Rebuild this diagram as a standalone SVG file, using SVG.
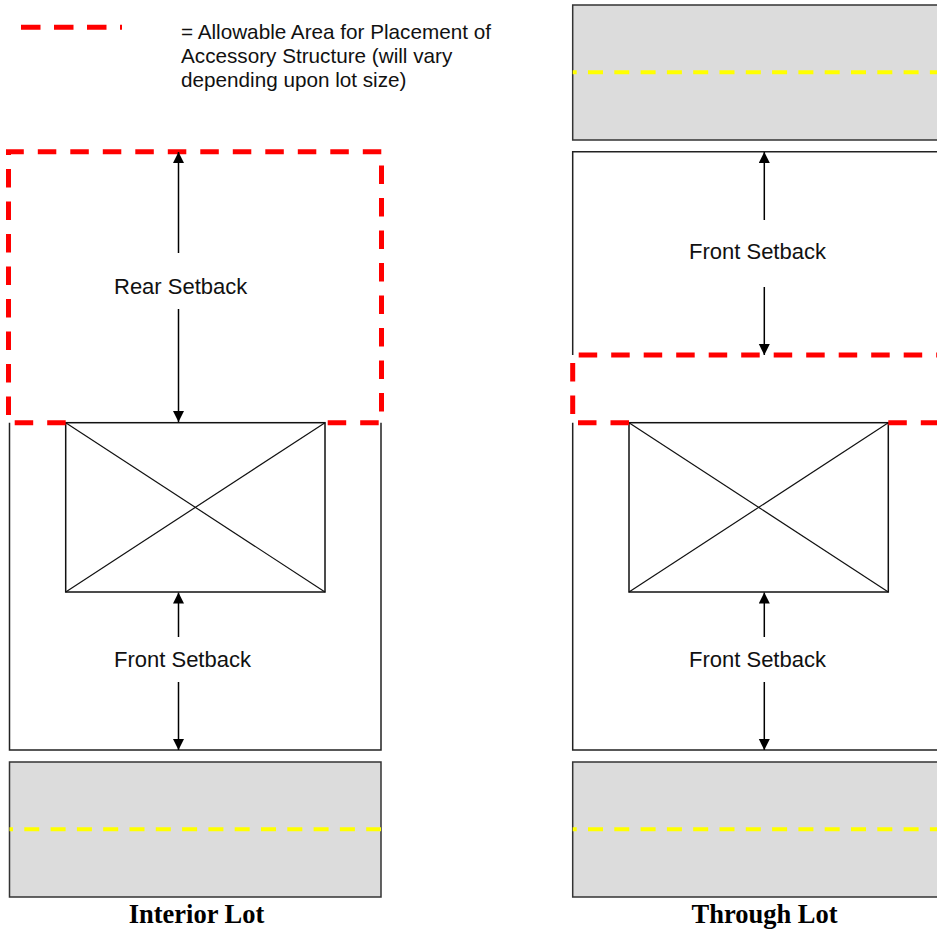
<svg xmlns="http://www.w3.org/2000/svg" width="937" height="931" viewBox="0 0 937 931">
<style>
.road{fill:#dcdcdc;stroke:#333;stroke-width:1.5}
.yel{fill:none;stroke:#ffff00;stroke-width:4;stroke-dasharray:15 11.3;stroke-dashoffset:11.5}
.lot{fill:none;stroke:#222;stroke-width:1.5}
.bld{fill:#fff;stroke:#111;stroke-width:1.5}
.diag{stroke:#111;stroke-width:1.2}
.red{fill:none;stroke:#ff0000;stroke-width:5;stroke-dasharray:18.5 14}
.arr{stroke:#000;stroke-width:1.5;fill:none;marker-end:url(#ah)}
.lbl{font-family:"Liberation Sans",Arial,sans-serif;font-size:22px;fill:#111}
.leg{font-family:"Liberation Sans",Arial,sans-serif;font-size:20.7px;fill:#111}
.ttl{font-family:"Liberation Serif","Times New Roman",serif;font-size:26.5px;font-weight:bold;fill:#000;text-anchor:middle}
</style>
<defs>
<marker id="ah" markerWidth="11" markerHeight="12" refX="11" refY="5.5" orient="auto" markerUnits="userSpaceOnUse">
<path d="M0,0 L11,5.5 L0,11 Z" fill="#000"/>
</marker>
</defs>
<rect width="937" height="931" fill="#fff"/>

<g id="legend">
<line x1="21" y1="27.3" x2="122" y2="27.3" stroke="#ff0000" stroke-width="5" stroke-dasharray="19.5 13.5"/>
<text class="leg" x="181" y="39">= Allowable Area for Placement of</text>
<text class="leg" x="181" y="63">Accessory Structure (will vary</text>
<text class="leg" x="181" y="87">depending upon lot size)</text>
</g>

<g id="interior-lot">
<path class="lot" d="M9.5,422.7 V750 H381 V422.7"/>
</g>
<g id="interior-building">
<rect class="bld" x="65.7" y="422.7" width="259.3" height="169.3"/>
<line class="diag" x1="65.7" y1="422.7" x2="325" y2="592"/>
<line class="diag" x1="325" y1="422.7" x2="65.7" y2="592"/>
</g>
<g id="interior-allowable">
<path class="red" d="M65.7,422.7 H8.5 V151.7 H381.5 V422.7 H325"/>
</g>
<g id="interior-road">
<rect class="road" x="9.5" y="762" width="371.5" height="135"/>
<line class="yel" x1="9.5" y1="829.3" x2="381" y2="829.3"/>
</g>
<g id="interior-title">
<text class="ttl" x="196.5" y="923">Interior Lot</text>
</g>
<g id="interior-rear-label"><text class="lbl" x="114" y="294">Rear Setback</text></g>
<g id="interior-front-label"><text class="lbl" x="114" y="667">Front Setback</text></g>

<g id="through-road-top">
<rect class="road" x="572.7" y="5" width="400" height="135"/>
<line class="yel" x1="572.7" y1="72.3" x2="937" y2="72.3" style="stroke-dashoffset:11"/>
</g>
<g id="through-lot">
<path class="lot" d="M960,151.7 H572.7 V355 M572.7,422.7 V750 H960"/>
</g>
<g id="through-building">
<rect class="bld" x="629" y="422.7" width="259.3" height="169.3"/>
<line class="diag" x1="629" y1="422.7" x2="888.3" y2="592"/>
<line class="diag" x1="888.3" y1="422.7" x2="629" y2="592"/>
</g>
<g id="through-allowable">
<path class="red" d="M629,422.7 H572.7 V355 H960"/>
<path class="red" d="M888.3,422.7 H960"/>
</g>
<g id="through-road-bottom">
<rect class="road" x="572.7" y="762" width="400" height="135"/>
<line class="yel" x1="572.7" y1="829.3" x2="937" y2="829.3" style="stroke-dashoffset:11"/>
</g>
<g id="through-title">
<text class="ttl" x="764.5" y="923">Through Lot</text>
</g>
<g id="through-front-label-top"><text class="lbl" x="689" y="258.5">Front Setback</text></g>
<g id="through-front-label-bottom"><text class="lbl" x="689" y="667">Front Setback</text></g>

<g id="connectors">
<line class="arr" x1="178.5" y1="253" x2="178.5" y2="152"/>
<line class="arr" x1="178.5" y1="309" x2="178.5" y2="422"/>
<line class="arr" x1="178.5" y1="637" x2="178.5" y2="592.5"/>
<line class="arr" x1="178.5" y1="682" x2="178.5" y2="750"/>
<line class="arr" x1="764.3" y1="220" x2="764.3" y2="152"/>
<line class="arr" x1="764.3" y1="287" x2="764.3" y2="355"/>
<line class="arr" x1="764.3" y1="637" x2="764.3" y2="592.5"/>
<line class="arr" x1="764.3" y1="682" x2="764.3" y2="750"/>
</g>
</svg>
